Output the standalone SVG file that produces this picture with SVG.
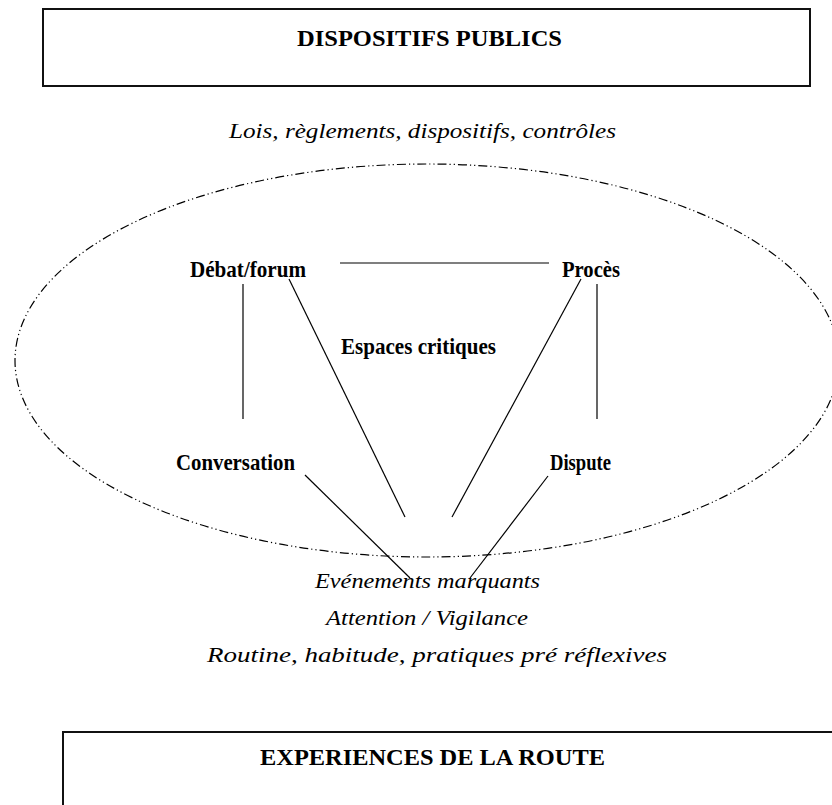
<svg xmlns="http://www.w3.org/2000/svg" width="832" height="805" viewBox="0 0 832 805">
<style>
.box{fill:none;stroke:#111;stroke-width:2}
.b{font-family:"Liberation Serif","Times New Roman",serif;font-weight:bold;font-size:24px;fill:#000}
.i{font-family:"Liberation Serif","Times New Roman",serif;font-style:italic;font-size:22px;fill:#000}
.ln{stroke:#000;stroke-width:1.2;fill:none}
.ell{fill:none;stroke:#000;stroke-width:1.2;stroke-dasharray:9 3 1.2 3 1.2 3}
</style>
<rect width="832" height="805" fill="#fff"/>
<g id="dispositifs">
<rect class="box" x="43" y="9" width="767" height="77"/>
<text class="b" x="297" y="46" textLength="265" lengthAdjust="spacingAndGlyphs">DISPOSITIFS PUBLICS</text>
</g>
<g id="lois"><text class="i" x="229" y="138" textLength="387" lengthAdjust="spacingAndGlyphs">Lois, règlements, dispositifs, contrôles</text></g>
<g id="espaces">
<ellipse class="ell" cx="427" cy="360.5" rx="412" ry="196.5"/>
<text class="b" x="341" y="354" textLength="155" lengthAdjust="spacingAndGlyphs">Espaces critiques</text>
</g>
<g id="debat"><text class="b" x="190" y="277" textLength="116" lengthAdjust="spacingAndGlyphs">Débat/forum</text></g>
<g id="proces"><text class="b" x="562" y="277" textLength="58" lengthAdjust="spacingAndGlyphs">Procès</text></g>
<g id="conversation"><text class="b" x="176" y="470" textLength="119" lengthAdjust="spacingAndGlyphs">Conversation</text></g>
<g id="dispute"><text class="b" x="550" y="470" textLength="61" lengthAdjust="spacingAndGlyphs">Dispute</text></g>
<g id="evenements">
<text class="i" x="315" y="588" textLength="225" lengthAdjust="spacingAndGlyphs">Evénements marquants</text>
<text class="i" x="326" y="625" textLength="202" lengthAdjust="spacingAndGlyphs">Attention / Vigilance</text>
<text class="i" x="207" y="662" textLength="460" lengthAdjust="spacingAndGlyphs">Routine, habitude, pratiques pré réflexives</text>
</g>
<g id="experiences">
<rect class="box" x="63" y="732" width="800" height="100"/>
<text class="b" x="260" y="765" textLength="345" lengthAdjust="spacingAndGlyphs">EXPERIENCES DE LA ROUTE</text>
</g>
<g id="connectors">
<line class="ln" x1="340" y1="263" x2="549" y2="263"/>
<line class="ln" x1="243" y1="284" x2="243" y2="419"/>
<line class="ln" x1="597" y1="284" x2="597" y2="419"/>
<line class="ln" x1="289" y1="279" x2="405" y2="517"/>
<line class="ln" x1="581" y1="279" x2="452" y2="517"/>
<line class="ln" x1="305" y1="475" x2="410" y2="578"/>
<line class="ln" x1="548" y1="476" x2="470" y2="578"/>
</g>
</svg>
